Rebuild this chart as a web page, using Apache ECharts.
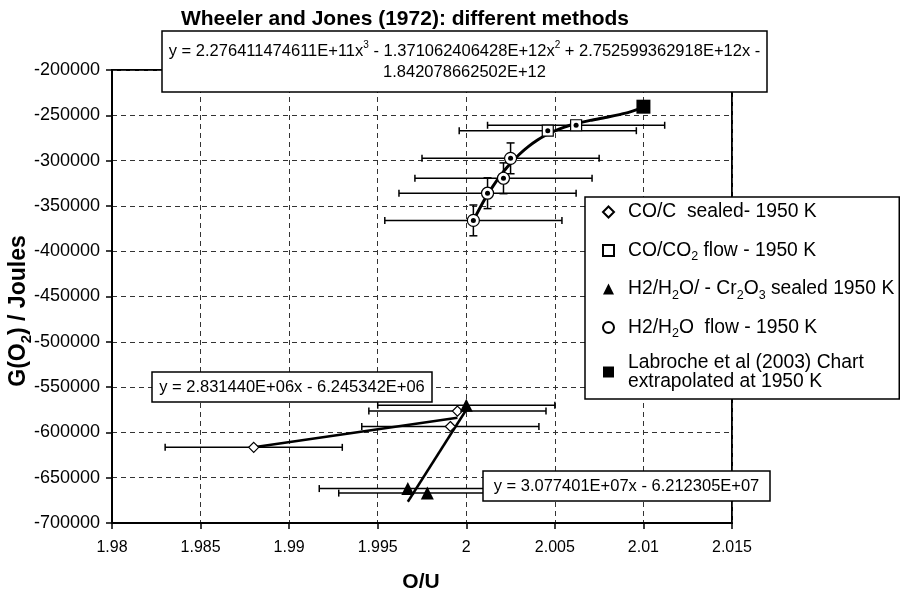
<!DOCTYPE html>
<html><head><meta charset="utf-8">
<script src="https://cdn.jsdelivr.net/npm/echarts@6/dist/echarts.min.js"></script>
<style>html,body{margin:0;padding:0;background:#fff}#c{width:900px;height:591px}</style>
</head><body><div id="c"></div>
<script>
// ---- data ----
const xTickLabels = ['1.98','1.985','1.99','1.995','2','2.005','2.01','2.015'];
const diamondX = [1.988, 1.9991, 1.9995];
const diamondY = [-616500, -593500, -576500];
const squareX = [2.0046, 2.0062];
const squareY = [-267000, -261000];
const triangleX = [1.9967, 1.9978, 2.0];
const triangleY = [-662000, -667000, -570000];
const circleX = [2.0004, 2.0012, 2.0021, 2.0025];
const circleY = [-366000, -336000, -319500, -297500];
const labrocheX = [2.01];
const labrocheY = [-240500];
const xErr = 0.005;
const circleYErr = 17000;
// polynomial trend line (values of the printed cubic)
const polyX = [2.0004, 2.001, 2.0015, 2.002, 2.0025, 2.003, 2.0035, 2.004, 2.0045, 2.005, 2.0055, 2.006, 2.007, 2.008, 2.009, 2.01, 2.0101];
const polyY = [-366107, -344170, -328396, -314717, -302962, -292962, -284546, -277542, -271779, -267088, -263298, -260237, -255622, -251877, -247636, -241533, -240770];
// linear trend lines (end points)
const fitDiamondX = [1.988, 1.9995];
const fitDiamondY = [-616439, -583878];
const fitTriangleX = [1.9967, 2.0];
const fitTriangleY = [-676584, -575030];

const FONT = "'Liberation Sans', Arial, Helvetica, sans-serif";
const zip = (xs, ys) => xs.map((x, i) => [x, ys[i]]);

const errData = [];
diamondX.forEach((x, i) => errData.push([x, diamondY[i], xErr, 0]));
squareX.forEach((x, i) => errData.push([x, squareY[i], xErr, 0]));
triangleX.forEach((x, i) => errData.push([x, triangleY[i], xErr, 0]));
circleX.forEach((x, i) => errData.push([x, circleY[i], xErr, circleYErr]));

const N1 = 'CO/C  sealed- 1950 K';
const N2 = 'CO/CO2 flow - 1950 K';
const N3 = 'H2/H2O/ - Cr2O3 sealed 1950 K';
const N4 = 'H2/H2O flow - 1950 K';
const N5 = 'Labroche et al (2003) Chart extrapolated at 1950 K';
const legendRich = {};
legendRich[N1] = 'CO/C  sealed- 1950 K';
legendRich[N2] = 'CO/CO{sub|2} flow - 1950 K';
legendRich[N3] = 'H2/H{sub|2}O/ - Cr{sub|2}O{sub|3} sealed 1950 K';
legendRich[N4] = 'H2/H{sub|2}O  flow - 1950 K';
legendRich[N5] = '{l|Labroche et al (2003) Chart}\n{l|extrapolated at 1950 K}';

const chart = echarts.init(document.getElementById('c'), null, {renderer: 'canvas'});

function eqBox(x, y, w, h, text, lh) {
  return {
    type: 'group', z: 100,
    children: [
      {type: 'rect', shape: {x: x, y: y, width: w, height: h},
       style: {fill: '#fff', stroke: '#000', lineWidth: 1.5}, z: 100},
      {type: 'text', x: x + w / 2, y: y + h / 2, z: 101,
       style: {text: text, align: 'center', verticalAlign: 'middle', fontFamily: FONT,
               fontSize: 16.5, fill: '#000', lineHeight: lh,
               rich: {sup: {fontSize: 10, verticalAlign: 'top', fontFamily: FONT, fill: '#000'}}}}
    ]
  };
}

const option = {
  animation: false,
  backgroundColor: '#fff',
  grid: {left: 112, right: 168, top: 70, bottom: 68, containLabel: false, outerBoundsMode: 'none',
         show: true, borderColor: '#000', borderWidth: 2, backgroundColor: 'transparent'},
  xAxis: {
    type: 'value', min: 1.98, max: 2.015, interval: 0.005,
    axisLine: {show: true, onZero: false, lineStyle: {color: '#000', width: 2}},
    axisTick: {show: true, length: 6, lineStyle: {color: '#000', width: 1.5}},
    axisLabel: {color: '#000', fontSize: 16, fontFamily: FONT, margin: 17,
                formatter: (v, i) => xTickLabels[i] !== undefined ? xTickLabels[i] : String(v)},
    splitLine: {show: true, lineStyle: {color: '#333', type: [5, 4], width: 1}}
  },
  yAxis: {
    type: 'value', min: -700000, max: -200000, interval: 50000,
    axisLine: {show: true, onZero: false, lineStyle: {color: '#000', width: 2}},
    axisTick: {show: true, length: 6, lineStyle: {color: '#000', width: 1.5}},
    axisLabel: {color: '#000', fontSize: 18, fontFamily: FONT, margin: 12, formatter: v => String(v)},
    splitLine: {show: true, lineStyle: {color: '#333', type: [5, 4], width: 1}}
  },
  legend: {
    orient: 'vertical', left: 585, top: 197,
    data: [N1, N2, N3, N4, N5],
    backgroundColor: '#fff', borderColor: '#000', borderWidth: 1.5,
    padding: [2, 5, 8, 17], itemGap: 12.5, itemWidth: 11, itemHeight: 11,
    symbolKeepAspect: true,
    selectedMode: false, z: 50,
    formatter: name => legendRich[name],
    textStyle: {color: '#000', fontSize: 19.3, fontFamily: FONT, lineHeight: 26, padding: [0, 0, 0, 9],
      rich: {sub: {fontSize: 12.5, verticalAlign: 'bottom', fontFamily: FONT, color: '#000', lineHeight: 26},
             l: {fontSize: 19.3, fontFamily: FONT, color: '#000', lineHeight: 19}}}
  },
  series: [
    {
      type: 'custom', name: 'err', z: 2, silent: true,
      encode: {x: 0, y: 1},
      data: errData,
      renderItem: function (params, api) {
        const x = api.value(0), y = api.value(1), ex = api.value(2), ey = api.value(3);
        const c = api.coord([x, y]);
        const l = api.coord([x - ex, y]);
        const r = api.coord([x + ex, y]);
        const st = {stroke: '#000', lineWidth: 1.5};
        const ch = [
          {type: 'line', shape: {x1: l[0], y1: c[1], x2: r[0], y2: c[1]}, style: st},
          {type: 'line', shape: {x1: l[0], y1: c[1] - 3.5, x2: l[0], y2: c[1] + 3.5}, style: st},
          {type: 'line', shape: {x1: r[0], y1: c[1] - 3.5, x2: r[0], y2: c[1] + 3.5}, style: st}
        ];
        if (ey > 0) {
          const t = api.coord([x, y + ey]);
          const b = api.coord([x, y - ey]);
          ch.push({type: 'line', shape: {x1: c[0], y1: t[1], x2: c[0], y2: b[1]}, style: st});
          ch.push({type: 'line', shape: {x1: c[0] - 4, y1: t[1], x2: c[0] + 4, y2: t[1]}, style: st});
          ch.push({type: 'line', shape: {x1: c[0] - 4, y1: b[1], x2: c[0] + 4, y2: b[1]}, style: st});
        }
        return {type: 'group', children: ch};
      }
    },
    {type: 'line', name: 'poly', data: zip(polyX, polyY), showSymbol: false, symbol: 'none', z: 3,
     lineStyle: {color: '#000', width: 3}, smooth: 0.2, silent: true},
    {type: 'line', name: 'fitD', data: zip(fitDiamondX, fitDiamondY), showSymbol: false, symbol: 'none', z: 3,
     lineStyle: {color: '#000', width: 2.5}, silent: true},
    {type: 'line', name: 'fitT', data: zip(fitTriangleX, fitTriangleY), showSymbol: false, symbol: 'none', z: 3,
     lineStyle: {color: '#000', width: 2.5}, silent: true},
    {type: 'scatter', name: N1, data: zip(diamondX, diamondY), symbol: 'diamond', symbolSize: 10, z: 5,
     symbolKeepAspect: true,
     itemStyle: {color: '#fff', borderColor: '#000', borderWidth: 1.2, opacity: 1}},
    {type: 'scatter', name: N2, data: zip(squareX, squareY), symbol: 'rect', symbolSize: 11, z: 5,
     symbolKeepAspect: true,
     itemStyle: {color: '#fff', borderColor: '#000', borderWidth: 1.2, opacity: 1}},
    {type: 'scatter', name: N3, data: zip(triangleX, triangleY), symbol: 'triangle', symbolSize: 13, z: 5,
     symbolKeepAspect: true,
     itemStyle: {color: '#000', borderColor: '#000', borderWidth: 0, opacity: 1}},
    {type: 'scatter', name: N4, data: zip(circleX, circleY), symbol: 'circle', symbolSize: 12, z: 5,
     symbolKeepAspect: true,
     itemStyle: {color: '#fff', borderColor: '#000', borderWidth: 1.2, opacity: 1}},
    {type: 'scatter', name: N5, data: zip(labrocheX, labrocheY), symbol: 'rect', symbolSize: 14, z: 5,
     symbolKeepAspect: true,
     itemStyle: {color: '#000', borderColor: '#000', borderWidth: 0, opacity: 1}},
    {type: 'scatter', name: 'dots', data: zip(circleX, circleY).concat(zip(squareX, squareY)),
     symbol: 'circle', symbolSize: 5, z: 6, silent: true,
     itemStyle: {color: '#000', opacity: 1}}
  ],
  graphic: [
    {type: 'text', x: 405, y: 19, z: 100,
     style: {text: 'Wheeler and Jones (1972): different methods', align: 'center', verticalAlign: 'middle',
             fontFamily: FONT, fontWeight: 'bold', fontSize: 21, fill: '#000'}},
    {type: 'text', x: 421, y: 582, z: 100,
     style: {text: 'O/U', align: 'center', verticalAlign: 'middle',
             fontFamily: FONT, fontWeight: 'bold', fontSize: 21, fill: '#000'}},
    {type: 'text', x: 19, y: 311, rotation: Math.PI / 2, z: 100,
     style: {text: 'G(O{sub|2}) / Joules', align: 'center', verticalAlign: 'middle',
             fontFamily: FONT, fontWeight: 'bold', fontSize: 23, fill: '#000', lineHeight: 31,
             rich: {sub: {fontSize: 15, fontWeight: 'bold', fontFamily: FONT, fill: '#000',
                          verticalAlign: 'bottom', lineHeight: 31}}}},
    eqBox(162, 31, 605, 61, 'y = 2.276411474611E+11x{sup|3} - 1.371062406428E+12x{sup|2} + 2.752599362918E+12x -\n1.842078662502E+12', 21),
    eqBox(152, 372, 280, 30, 'y = 2.831440E+06x - 6.245342E+06', 20),
    eqBox(483, 471, 287, 30, 'y = 3.077401E+07x - 6.212305E+07', 20)
  ]
};
chart.setOption(option);
</script>
</body></html>
